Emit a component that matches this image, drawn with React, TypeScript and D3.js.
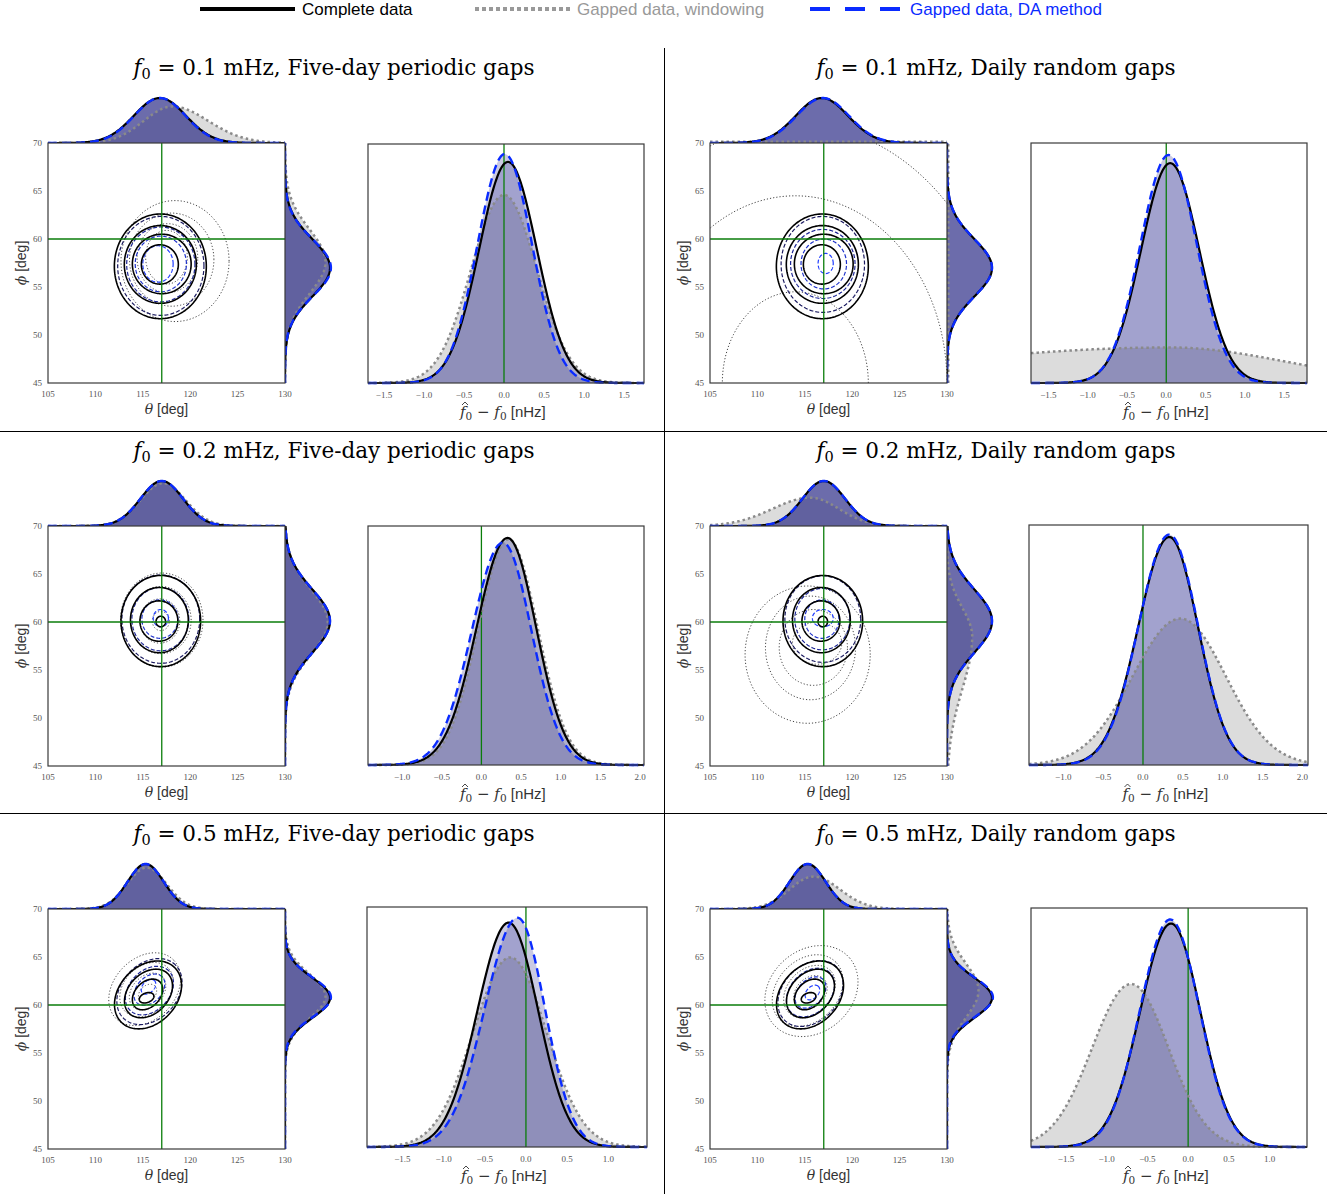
import React from 'react';
import * as d3 from 'd3';

// panel order: row by row, left = five-day periodic gaps, right = daily random gaps
const f0Labels = ['0.1', '0.1', '0.2', '0.2', '0.5', '0.5'];
const gapLabels = [
  'Five-day periodic gaps', 'Daily random gaps',
  'Five-day periodic gaps', 'Daily random gaps',
  'Five-day periodic gaps', 'Daily random gaps',
];
const trueTheta = [117, 117, 117, 117, 117, 117];
const truePhi = [60, 60, 60, 60, 60, 60];

const thetaTicks = [105, 110, 115, 120, 125, 130];
const phiTicks = [45, 50, 55, 60, 65, 70];

// posterior densities: [mode, width below, width above, peak height]
const thetaComplete = [
  [116.8, 2.75, 2.75, 1.0], [116.8, 2.75, 2.75, 1.0],
  [117.0, 2.25, 2.25, 1.0], [117.0, 2.25, 2.25, 1.0],
  [115.3, 1.9, 1.9, 1.0], [115.3, 1.9, 1.9, 1.0],
];
const thetaWindowing = [
  [118.1, 3.0, 3.8, 0.81], [118.0, 25, 25, 0.03],
  [117.1, 2.35, 2.4, 0.95], [115.6, 4.0, 3.0, 0.63],
  [115.4, 2.05, 2.1, 0.92], [115.9, 2.5, 2.8, 0.72],
];
const thetaDA = [
  [116.8, 2.7, 2.7, 1.0], [116.9, 2.75, 2.75, 1.0],
  [117.0, 2.25, 2.25, 1.0], [117.0, 2.25, 2.25, 1.0],
  [115.3, 1.9, 1.9, 1.0], [115.3, 1.9, 1.9, 1.0],
];
const phiComplete = [
  [57.0, 3.0, 3.0, 1.0], [57.0, 3.0, 3.0, 1.0],
  [60.1, 3.3, 3.3, 1.0], [60.1, 3.3, 3.3, 1.0],
  [60.75, 2.1, 2.1, 1.0], [60.75, 2.1, 2.1, 1.0],
];
const phiWindowing = [
  [57.6, 3.3, 3.4, 0.9], [57.0, 30, 30, 0.03],
  [60.0, 3.4, 3.4, 0.95], [58.5, 5.5, 3.0, 0.56],
  [60.9, 2.3, 2.3, 0.9], [61.5, 2.8, 2.8, 0.7],
];
const phiDA = [
  [57.0, 2.95, 2.95, 1.02], [57.0, 3.0, 3.0, 1.0],
  [60.1, 3.3, 3.3, 1.0], [60.1, 3.3, 3.3, 1.0],
  [60.8, 2.05, 2.05, 1.02], [60.8, 2.05, 2.05, 1.02],
];
const f0Complete = [
  [0.05, 0.36, 0.36, 0.925], [0.05, 0.37, 0.37, 0.916],
  [0.33, 0.39, 0.36, 0.95], [0.33, 0.39, 0.36, 0.95],
  [-0.21, 0.38, 0.36, 0.935], [-0.21, 0.38, 0.36, 0.935],
];
const f0Windowing = [
  [0.0, 0.41, 0.41, 0.787], [0.05, 3.0, 1.46, 0.148],
  [0.34, 0.38, 0.37, 0.945], [0.47, 0.6, 0.57, 0.61],
  [-0.19, 0.45, 0.44, 0.79], [-0.7, 0.48, 0.46, 0.682],
];
const f0DA = [
  [0.01, 0.34, 0.34, 0.958], [0.03, 0.36, 0.36, 0.95],
  [0.27, 0.39, 0.36, 0.93], [0.33, 0.385, 0.36, 0.96],
  [-0.1, 0.4, 0.33, 0.955], [-0.22, 0.37, 0.36, 0.952],
];
const f0Domains = [
  [-1.7, 1.75], [-1.72, 1.79],
  [-1.43, 2.05], [-1.43, 2.07],
  [-1.93, 1.47], [-1.93, 1.46],
];
const f0Ticks = [
  [-1.5, -1.0, -0.5, 0.0, 0.5, 1.0, 1.5], [-1.5, -1.0, -0.5, 0.0, 0.5, 1.0, 1.5],
  [-1.0, -0.5, 0.0, 0.5, 1.0, 1.5, 2.0], [-1.0, -0.5, 0.0, 0.5, 1.0, 1.5, 2.0],
  [-1.5, -1.0, -0.5, 0.0, 0.5, 1.0], [-1.5, -1.0, -0.5, 0.0, 0.5, 1.0],
];

// contour levels (outer to inner): [theta centre, phi centre, half-axis a, half-axis b, tilt deg]
const contourComplete = [
  [[116.85, 57.15, 4.85, 5.45, 0], [116.85, 57.35, 3.8, 4.05, 0], [117.0, 57.4, 3.1, 3.1, 0], [116.8, 57.35, 1.95, 2.05, 0]],
  [[116.85, 57.15, 4.85, 5.45, 0], [116.85, 57.35, 3.8, 4.05, 0], [117.0, 57.4, 3.1, 3.1, 0], [116.8, 57.35, 1.95, 2.05, 0]],
  [[116.9, 60.1, 4.2, 4.75, 0], [116.75, 60.2, 3.05, 3.4, 0], [116.7, 60.1, 2.0, 2.1, 0], [116.9, 60.05, 0.5, 0.55, 0]],
  [[116.9, 60.1, 4.2, 4.75, 0], [116.75, 60.2, 3.05, 3.4, 0], [116.7, 60.1, 2.0, 2.1, 0], [116.9, 60.05, 0.5, 0.55, 0]],
  [[115.55, 61.05, 4.0, 3.0, 45], [115.6, 61.2, 2.9, 2.1, 45], [115.5, 61.1, 1.85, 1.3, 45], [115.4, 60.75, 0.8, 0.5, 20]],
  [[115.55, 61.05, 4.0, 3.0, 45], [115.6, 61.2, 2.9, 2.1, 45], [115.5, 61.1, 1.85, 1.3, 45], [115.4, 60.75, 0.8, 0.5, 20]],
];
const contourWindowing = [
  [[118.4, 57.7, 5.7, 6.3, 0], [118.05, 57.85, 4.45, 4.85, 0], [117.6, 58.0, 3.2, 3.6, 0], [117.5, 58.1, 2.2, 2.8, 0]],
  [[114.0, 45.0, 22.2, 27.0, 0], [114.0, 45.0, 16.0, 19.5, 0], [114.0, 45.0, 7.7, 9.5, 0]],
  [[117.0, 60.2, 4.35, 4.9, 0], [116.9, 60.2, 3.2, 3.5, 0], [116.8, 60.1, 2.1, 2.3, 0], [116.9, 60.1, 0.9, 1.0, 0]],
  [[115.3, 56.6, 6.6, 7.15, 0], [115.6, 57.3, 4.75, 5.4, 0], [115.9, 57.35, 3.6, 3.95, 0], [116.3, 57.8, 2.6, 2.2, 0]],
  [[115.2, 61.65, 4.3, 3.2, 45], [115.4, 61.6, 3.2, 2.4, 45], [115.5, 61.4, 2.2, 1.6, 45], [115.5, 61.2, 1.1, 0.8, 45]],
  [[115.7, 61.45, 5.3, 4.3, 40], [115.3, 61.5, 4.2, 3.2, 45], [115.5, 61.4, 3.1, 2.3, 45], [115.6, 61.3, 2.0, 1.5, 45]],
];
const contourDA = [
  [[116.9, 57.2, 4.55, 5.15, 0], [116.9, 57.35, 3.6, 3.9, 0], [116.9, 57.4, 2.7, 2.9, 0], [116.6, 57.4, 1.6, 1.9, 0]],
  [[116.9, 57.35, 4.4, 5.0, 0], [116.9, 57.4, 3.4, 3.6, 0], [117.0, 57.4, 2.4, 2.6, 0], [117.2, 57.45, 0.8, 1.05, 0]],
  [[116.9, 60.3, 4.1, 4.6, 0], [116.85, 60.3, 3.0, 3.3, 0], [116.8, 60.3, 1.9, 2.0, 0], [116.9, 60.4, 0.8, 0.9, 0]],
  [[116.9, 60.3, 4.0, 4.5, 0], [116.85, 60.3, 2.9, 3.2, 0], [116.8, 60.3, 1.8, 2.0, 0], [116.9, 60.4, 1.1, 0.9, 0]],
  [[115.7, 61.4, 3.9, 2.9, 45], [115.7, 61.5, 2.9, 2.1, 45], [115.7, 61.6, 1.9, 1.3, 45], [115.6, 61.9, 0.9, 0.6, 45]],
  [[115.6, 61.2, 3.9, 2.9, 45], [115.6, 61.3, 2.9, 2.1, 45], [115.6, 61.3, 1.9, 1.3, 45], [115.8, 61.3, 0.9, 0.6, 45]],
];

// layout
const rowOffsets = [0, 383, 766];
const f0Boxes = [
  [368, 144, 644, 383], [1031, 143, 1307, 383],
  [368, 526, 644, 765], [1029, 525, 1308, 765],
  [367, 907, 647, 1147], [1031, 908, 1307, 1147],
];
const MARG = 45;
const BLUE = '#0a2bff';
const GRAY = '#8a8a8a';
const SERIF = '"DejaVu Serif", serif';
const TICKFONT = '"Liberation Serif", serif';
const SANS = '"Liberation Sans", Arial, sans-serif';

function dens(p: number[], x: number) {
  const [m, sl, sr, h] = p;
  const s = x < m ? sl : sr;
  return h * Math.exp(-0.5 * ((x - m) / s) ** 2);
}

function ellipse(c: number[], xs: any, ys: any) {
  const [cx, cy, a, b, ang] = c;
  const r = (ang * Math.PI) / 180;
  const pts = d3.range(0, 2 * Math.PI, Math.PI / 90).map((t) => {
    const u = a * Math.cos(t);
    const v = b * Math.sin(t);
    return [xs(cx + u * Math.cos(r) - v * Math.sin(r)), ys(cy + u * Math.sin(r) + v * Math.cos(r))] as [number, number];
  });
  return d3.line().curve(d3.curveLinearClosed)(pts) || '';
}

const fmt = d3.format('.1f');

const Panel = ({ i }: { i: number }) => {
  const col = i % 2;
  const row = Math.floor(i / 2);
  const dy = rowOffsets[row];
  const jx = col ? 710 : 48;
  const jw = 237;
  const jy = 143 + dy;
  const jh = 240;
  const xs = d3.scaleLinear().domain([105, 130]).range([jx, jx + jw]);
  const ys = d3.scaleLinear().domain([45, 70]).range([jy + jh, jy]);

  // top marginal (theta)
  const thetaGrid = d3.range(105, 130.001, 0.1);
  const topArea = (p: number[]) =>
    d3.area<number>().x((t) => xs(t)).y0(jy).y1((t) => jy - MARG * dens(p, t))(thetaGrid) || '';
  const topLine = (p: number[]) =>
    d3.line<number>().x((t) => xs(t)).y((t) => jy - MARG * dens(p, t))(thetaGrid) || '';
  // right marginal (phi)
  const phiGrid = d3.range(45, 70.001, 0.1);
  const rx0 = jx + jw;
  const rightArea = (p: number[]) =>
    d3.area<number>().y((t) => ys(t)).x0(rx0).x1((t) => rx0 + MARG * dens(p, t))(phiGrid) || '';
  const rightLine = (p: number[]) =>
    d3.line<number>().y((t) => ys(t)).x((t) => rx0 + MARG * dens(p, t))(phiGrid) || '';

  // f0 panel
  const [bx0, by0, bx1, by1] = f0Boxes[i];
  const fx = d3.scaleLinear().domain(f0Domains[i]).range([bx0, bx1]);
  const fy = d3.scaleLinear().domain([0, 1]).range([by1, by0]);
  const fGrid = d3.range(f0Domains[i][0], f0Domains[i][1] + 0.0001, 0.01);
  const fArea = (p: number[]) =>
    d3.area<number>().x((t) => fx(t)).y0(fy(0)).y1((t) => fy(dens(p, t)))(fGrid) || '';
  const fLine = (p: number[]) =>
    d3.line<number>().x((t) => fx(t)).y((t) => fy(dens(p, t)))(fGrid) || '';

  const blueLevel = (k: number, n: number) => d3.interpolateRgb('#1a1a60', '#1f3cff')(n > 1 ? k / (n - 1) : 1);
  const titleX = col ? 996 : 334;
  const fCenter = (bx0 + bx1) / 2;
  const lx = fCenter - 46;
  const ly = by1 + 34;

  return (
    <g>
      <defs>
        <clipPath id={`jclip${i}`}>
          <rect x={jx} y={jy} width={jw} height={jh} />
        </clipPath>
      </defs>
      {/* title */}
      <text x={titleX} y={75 + dy} textAnchor="middle" fontFamily={SERIF} fontSize={21.5} fill="#000">
        <tspan fontStyle="italic">f</tspan>
        <tspan fontSize={14.5} dy={4}>0</tspan>
        <tspan dy={-4}>{` = ${f0Labels[i]} mHz, ${gapLabels[i]}`}</tspan>
      </text>

      {/* marginals */}
      <path d={topArea(thetaWindowing[i])} fill="#dcdcdc" />
      <path d={topArea(thetaComplete[i])} fill="#2a2a83" fillOpacity={0.44} />
      <path d={topArea(thetaDA[i])} fill="#2a2a83" fillOpacity={0.44} />
      <path d={topLine(thetaWindowing[i])} fill="none" stroke={GRAY} strokeWidth={2.5} strokeDasharray="2.5,3" />
      <path d={topLine(thetaComplete[i])} fill="none" stroke="#000" strokeWidth={2.2} />
      <path d={topLine(thetaDA[i])} fill="none" stroke={BLUE} strokeWidth={2.4} strokeDasharray="9,5" />

      <path d={rightArea(phiWindowing[i])} fill="#dcdcdc" />
      <path d={rightArea(phiComplete[i])} fill="#2a2a83" fillOpacity={0.44} />
      <path d={rightArea(phiDA[i])} fill="#2a2a83" fillOpacity={0.44} />
      <path d={rightLine(phiWindowing[i])} fill="none" stroke={GRAY} strokeWidth={2.5} strokeDasharray="2.5,3" />
      <path d={rightLine(phiComplete[i])} fill="none" stroke="#000" strokeWidth={2.2} />
      <path d={rightLine(phiDA[i])} fill="none" stroke={BLUE} strokeWidth={2.4} strokeDasharray="9,5" />

      {/* joint contours */}
      <rect x={jx} y={jy} width={jw} height={jh} fill="#fff" />
      <g clipPath={`url(#jclip${i})`}>
        {contourWindowing[i].map((c, k) => (
          <path key={`w${k}`} d={ellipse(c, xs, ys)} fill="none" stroke="#444" strokeWidth={1} strokeDasharray="1.2,2" />
        ))}
        {contourDA[i].map((c, k) => (
          <path key={`d${k}`} d={ellipse(c, xs, ys)} fill="none" stroke={blueLevel(k, contourDA[i].length)} strokeWidth={1.2} strokeDasharray="4,2" />
        ))}
        {contourComplete[i].map((c, k) => (
          <path key={`c${k}`} d={ellipse(c, xs, ys)} fill="none" stroke="#000" strokeWidth={1.6} />
        ))}
        <line x1={xs(trueTheta[i])} x2={xs(trueTheta[i])} y1={jy} y2={jy + jh} stroke="#0a7d0a" strokeWidth={1.3} />
        <line x1={jx} x2={jx + jw} y1={ys(truePhi[i])} y2={ys(truePhi[i])} stroke="#0a7d0a" strokeWidth={1.3} />
      </g>
      <rect x={jx} y={jy} width={jw} height={jh} fill="none" stroke="#3a3a3a" strokeWidth={1.2} />
      {thetaTicks.map((t) => (
        <text key={`tx${t}`} x={xs(t)} y={jy + jh + 14} textAnchor="middle" fontFamily={TICKFONT} fontSize={9} fill="#555">
          {t}
        </text>
      ))}
      {phiTicks.map((t) => (
        <text key={`ty${t}`} x={jx - 6} y={ys(t) + 3} textAnchor="end" fontFamily={TICKFONT} fontSize={9} fill="#555">
          {t}
        </text>
      ))}
      <text x={jx + jw / 2} y={jy + jh + 31} textAnchor="middle" fontSize={14} fill="#333">
        <tspan fontFamily={SERIF} fontStyle="italic">θ</tspan>
        <tspan fontFamily={SANS}> [deg]</tspan>
      </text>
      <text transform={`translate(${jx - 22},${jy + jh / 2}) rotate(-90)`} textAnchor="middle" fontSize={14} fill="#333">
        <tspan fontFamily={SERIF} fontStyle="italic">ϕ</tspan>
        <tspan fontFamily={SANS}> [deg]</tspan>
      </text>

      {/* f0 posterior */}
      <path d={fArea(f0Windowing[i])} fill="#dcdcdc" />
      <path d={fArea(f0Complete[i])} fill="#2a2a90" fillOpacity={0.25} />
      <path d={fArea(f0DA[i])} fill="#2a2a90" fillOpacity={0.25} />
      <line x1={fx(0)} x2={fx(0)} y1={by0} y2={by1} stroke="#0a7d0a" strokeWidth={1.3} />
      <path d={fLine(f0Windowing[i])} fill="none" stroke={GRAY} strokeWidth={2.5} strokeDasharray="2.5,3" />
      <path d={fLine(f0Complete[i])} fill="none" stroke="#000" strokeWidth={2.2} />
      <path d={fLine(f0DA[i])} fill="none" stroke={BLUE} strokeWidth={2.4} strokeDasharray="9,5" />
      <rect x={bx0} y={by0} width={bx1 - bx0} height={by1 - by0} fill="none" stroke="#3a3a3a" strokeWidth={1.2} />
      {f0Ticks[i].map((t) => (
        <text key={`f${t}`} x={fx(t)} y={by1 + 15} textAnchor="middle" fontFamily={TICKFONT} fontSize={9} fill="#555">
          {fmt(t)}
        </text>
      ))}
      <path d={`M${lx + 2},${ly - 12} L${lx + 5},${ly - 15} L${lx + 8},${ly - 12}`} fill="none" stroke="#333" strokeWidth={0.9} />
      <text x={lx} y={ly} fontSize={15} fill="#333">
        <tspan fontFamily={SERIF} fontStyle="italic">f</tspan>
        <tspan fontFamily={SERIF} fontSize={10.5} dy={3}>0</tspan>
        <tspan fontFamily={SERIF} dy={-3}> − </tspan>
        <tspan fontFamily={SERIF} fontStyle="italic">f</tspan>
        <tspan fontFamily={SERIF} fontSize={10.5} dy={3}>0</tspan>
        <tspan fontFamily={SANS} dy={-3}> [nHz]</tspan>
      </text>
    </g>
  );
};

const App = () => {
  return (
    <svg width={1335} height={1194} style={{ position: 'absolute', left: 0, top: 0, background: '#fff' }}>
      <rect width={1335} height={1194} fill="#fff" />
      {/* legend */}
      <line x1={200} x2={295} y1={9} y2={9} stroke="#000" strokeWidth={4} />
      <text x={302} y={15} fontFamily={SANS} fontSize={17} fill="#000">Complete data</text>
      <line x1={475} x2={570} y1={9} y2={9} stroke="#999" strokeWidth={4} strokeDasharray="4,3" />
      <text x={577} y={15} fontFamily={SANS} fontSize={17} fill="#999">Gapped data, windowing</text>
      <line x1={810} x2={900} y1={9} y2={9} stroke={BLUE} strokeWidth={4} strokeDasharray="20,15" />
      <text x={910} y={15} fontFamily={SANS} fontSize={17} fill={BLUE}>Gapped data, DA method</text>

      {/* dividers */}
      <line x1={664.5} x2={664.5} y1={48} y2={1194} stroke="#000" strokeWidth={1} />
      <line x1={0} x2={1327} y1={431.5} y2={431.5} stroke="#000" strokeWidth={1} />
      <line x1={0} x2={1327} y1={813.5} y2={813.5} stroke="#000" strokeWidth={1} />

      {d3.range(6).map((i) => (
        <Panel key={i} i={i} />
      ))}
    </svg>
  );
};

export default App;
